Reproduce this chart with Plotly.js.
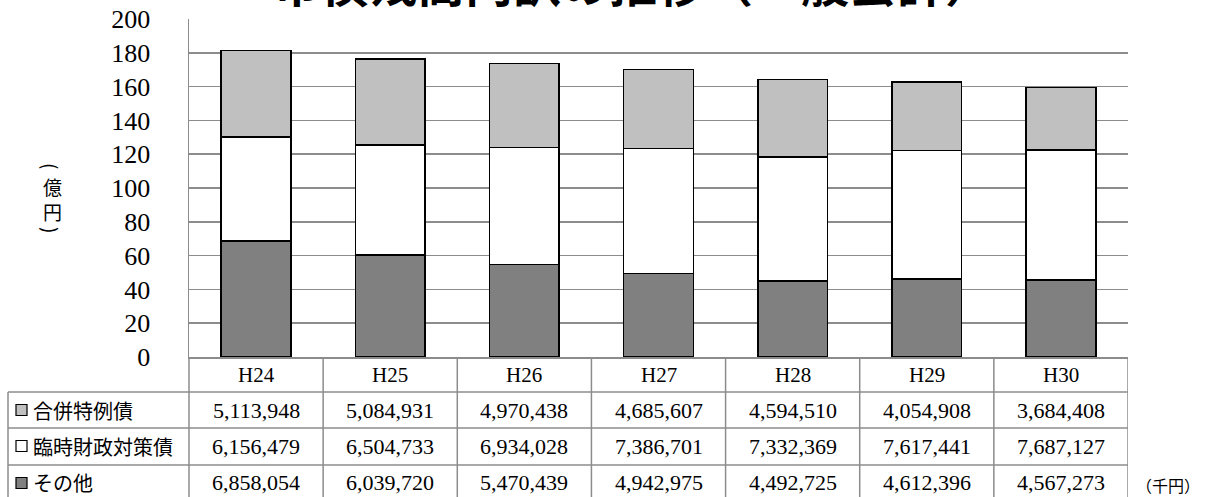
<!DOCTYPE html>
<html>
<head>
<meta charset="utf-8">
<script src="https://cdn.plot.ly/plotly-3.0.1.min.js"></script>
<style>
  html, body { margin: 0; padding: 0; background: #fff; }
  #chart { width: 1215px; height: 497px; }
</style>
</head>
<body>
<div id="chart"></div>
<script>
// 年度
const years = ['H24', 'H25', 'H26', 'H27', 'H28', 'H29', 'H30'];

// 市債残高（千円）
const gappei = [5113948, 5084931, 4970438, 4685607, 4594510, 4054908, 3684408];   // 合併特例債
const rinji  = [6156479, 6504733, 6934028, 7386701, 7332369, 7617441, 7687127];   // 臨時財政対策債
const sonota = [6858054, 6039720, 5470439, 4942975, 4492725, 4612396, 4567273];   // その他

const seriesNames  = ['合併特例債', '臨時財政対策債', 'その他'];
const seriesValues = [gappei, rinji, sonota];
const seriesColors = ['#c0c0c0', '#ffffff', '#808080'];

const yTicks = [0, 20, 40, 60, 80, 100, 120, 140, 160, 180, 200];

// 千円 → 億円
const toOku = v => v / 100000;

// page geometry
const W = 1215, H = 497;
const M = { l: 189, r: 87, t: 19, b: 140 };
const plotW = W - M.l - M.r;
const plotH = H - M.t - M.b;
const px = p => (p - M.l) / plotW;          // pixel x → paper
const py = p => (H - M.b - p) / plotH;      // pixel y → paper

const GRID = '#8c8c8c';
const SERIF = '"Liberation Serif", "DejaVu Serif", serif';
const GOTHIC = '"Noto Sans CJK JP", "Noto Sans", sans-serif';

// stacked bars: その他 at the bottom, 臨時財政対策債, then 合併特例債 on top
const traces = [2, 1, 0].map(k => ({
  type: 'bar',
  name: seriesNames[k],
  x: years,
  y: seriesValues[k].map(toOku),
  marker: { color: seriesColors[k], line: { color: '#000', width: 1.6 } },
  hoverinfo: 'skip'
}));

// data table under the chart
const rowTop = 357, rowLines = [392, 428, 465], tableBottom = 505;
const rowCenters = [410, 446, 483];
const tableLeft = 8;

const shapes = [];
const line = (x0, y0, x1, y1) => shapes.push({
  type: 'line', xref: 'paper', yref: 'paper',
  x0: x0, y0: y0, x1: x1, y1: y1,
  line: { color: GRID, width: 1.5 }
});

// horizontal rules
rowLines.forEach(r => line(px(tableLeft), py(r), 1, py(r)));
// left edge of the label column and the column divider
line(px(tableLeft), py(rowLines[0]), px(tableLeft), py(tableBottom));
line(0, py(rowTop), 0, py(tableBottom));
// category column dividers
for (let i = 0; i < years.length; i++) {
  shapes.push({
    type: 'line', xref: 'x', yref: 'paper',
    x0: i + 0.5, x1: i + 0.5, y0: py(rowTop), y1: py(tableBottom),
    line: { color: GRID, width: 1.5 }
  });
}

// legend keys in the label column
seriesNames.forEach((n, r) => {
  const c = rowCenters[r];
  shapes.push({
    type: 'rect', xref: 'paper', yref: 'paper',
    x0: px(16), x1: px(27), y0: py(c + 5.5), y1: py(c - 5.5),
    fillcolor: seriesColors[r],
    line: { color: '#000', width: 1.2 }
  });
});

const annotations = [];

// category labels
years.forEach(y => annotations.push({
  x: y, xref: 'x', y: py(375), yref: 'paper',
  text: y, showarrow: false, xanchor: 'center', yanchor: 'middle',
  font: { family: SERIF, size: 21, color: '#000' }
}));

// row labels and values
seriesNames.forEach((n, r) => {
  annotations.push({
    x: px(31), xref: 'paper', y: py(rowCenters[r]), yref: 'paper',
    text: n, showarrow: false, xanchor: 'left', yanchor: 'middle',
    font: { family: GOTHIC, size: 20, color: '#000' }
  });
  seriesValues[r].forEach((v, i) => annotations.push({
    x: years[i], xref: 'x', y: py(rowCenters[r]), yref: 'paper',
    text: v.toLocaleString('en-US'), showarrow: false,
    xanchor: 'center', yanchor: 'middle',
    font: { family: SERIF, size: 22, color: '#000' }
  }));
});

// unit note
annotations.push({
  x: px(1168), xref: 'paper', y: py(485), yref: 'paper',
  text: '（千円）', showarrow: false, xanchor: 'center', yanchor: 'middle',
  font: { family: GOTHIC, size: 16, color: '#000' }
});

// vertical axis title （億円）
const axisX = px(52);
annotations.push(
  { x: axisX, y: py(166), text: '(', textangle: 90 },
  { x: axisX, y: py(186), text: '億' },
  { x: axisX, y: py(211), text: '円' },
  { x: axisX, y: py(230), text: ')', textangle: 90 }
);
annotations.slice(-4).forEach(a => Object.assign(a, {
  xref: 'paper', yref: 'paper', showarrow: false,
  xanchor: 'center', yanchor: 'middle',
  font: { family: GOTHIC, size: 19, color: '#000' }
}));

// chart title
annotations.push({
  x: px(633), xref: 'paper', y: py(-19), yref: 'paper',
  text: '市債残高内訳の推移（一般会計）', showarrow: false,
  xanchor: 'center', yanchor: 'middle',
  font: { family: GOTHIC, size: 48, color: '#000', weight: 'bold' }
});

const layout = {
  width: W, height: H,
  margin: M,
  paper_bgcolor: '#fff', plot_bgcolor: '#fff',
  barmode: 'stack', bargap: 0.48,
  showlegend: false,
  xaxis: {
    type: 'category', range: [-0.5, years.length - 0.5],
    showticklabels: false, showgrid: false, zeroline: false,
    showline: true, linecolor: GRID, linewidth: 1.5, ticks: ''
  },
  yaxis: {
    range: [0, 200], tickvals: yTicks, ticktext: yTicks.map(String),
    showgrid: true, gridcolor: GRID, gridwidth: 1.5,
    showline: true, linecolor: GRID, linewidth: 1.5,
    zeroline: false, ticks: '', ticklabelstandoff: 32,
    tickfont: { family: SERIF, size: 26, color: '#000' }
  },
  shapes: shapes,
  annotations: annotations
};

Plotly.newPlot('chart', traces, layout, { staticPlot: true, displayModeBar: false });
</script>
</body>
</html>
